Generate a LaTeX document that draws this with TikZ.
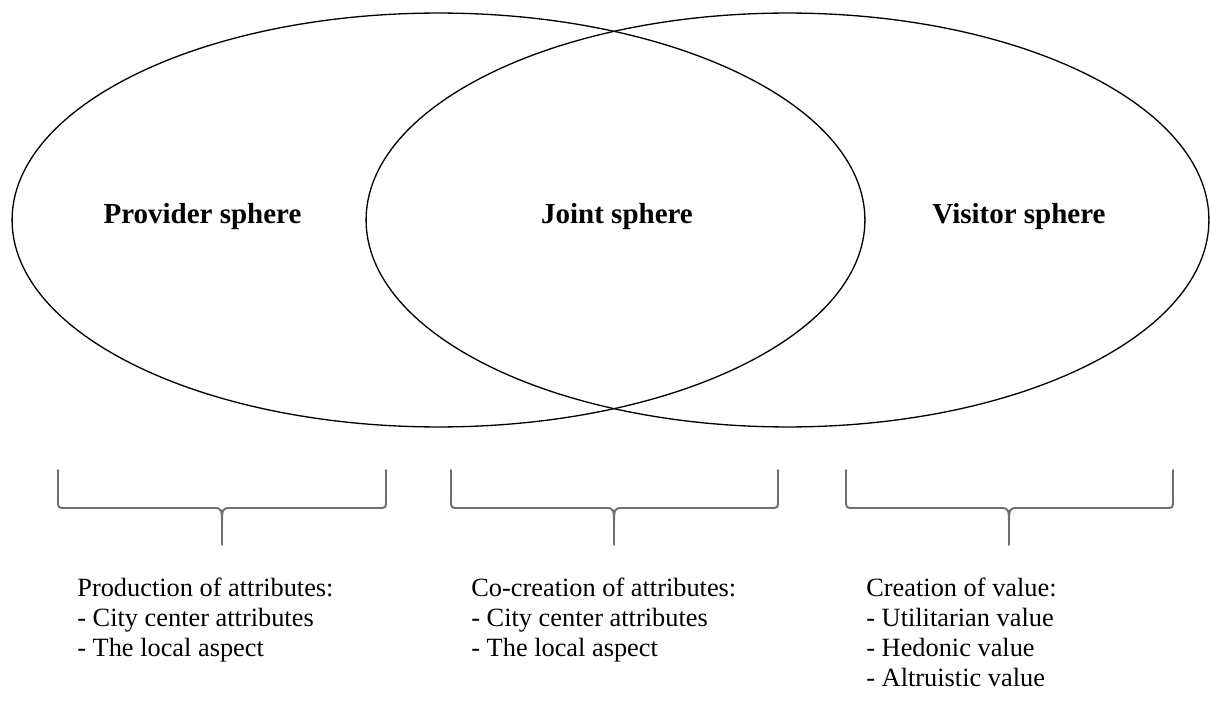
\documentclass[tikz,border=0pt]{standalone}
\usepackage{fontspec}
\setmainfont{Liberation Serif}
\usepackage{tikz}
\usetikzlibrary{shapes.geometric,positioning,calc}
\usepackage{xcolor}
\definecolor{bracegray}{HTML}{6E6E6E}
\tikzset{
  sphere/.style={ellipse, draw=black, line width=0.75pt, inner sep=0pt, outer sep=0pt,
                 minimum height=8.28cm},
  spherelab/.style={anchor=base, inner sep=0pt, font=\fontsize{16.5}{20}\selectfont\bfseries},
  bracepath/.style={draw=bracegray, line width=1.1pt, line cap=round},
  notelab/.style={anchor=north west, align=left, inner sep=0pt,
                  font=\fontsize{15}{17}\selectfont},
}

\begin{document}
\begin{tikzpicture}[x=0.02cm,y=-0.02cm]
\useasboundingbox (0,0) rectangle (1210,716);
\node[sphere, minimum width=17.06cm] (prov) at (438.5,220) {};
\node[sphere, minimum width=16.86cm] (visit) at (787.5,220) {};
\node[spherelab] (provlab) at (202.5,224) {Provider sphere};
\node[spherelab] (jointlab) at (617,224) {Joint sphere};
\node[spherelab] (visitlab) at (1019,224) {Visitor sphere};
% braces under the spheres
\foreach \l/\m/\r in {58/222/386, 451/614/778, 846/1009/1173}{
  \draw[bracepath] (\l,470) -- (\l,500) .. controls (\l,508) .. ({\l+8},508) -- ({\m-9},508)
    .. controls (\m,508) .. (\m,528) -- (\m,545);
  \draw[bracepath] (\m,528) .. controls (\m,508) .. ({\m+9},508) -- ({\r-8},508)
    .. controls (\r,508) .. (\r,500) -- (\r,470);
}
\node[notelab] (provtxt) at (77,578) {Production of attributes:\\- City center attributes\\- The local aspect};
\node[notelab] (jointtxt) at (471,578) {Co-creation of attributes:\\- City center attributes\\- The local aspect};
\node[notelab] (visittxt) at (866,578) {Creation of value:\\- Utilitarian value\\- Hedonic value\\- Altruistic value};
\end{tikzpicture}
\end{document}
